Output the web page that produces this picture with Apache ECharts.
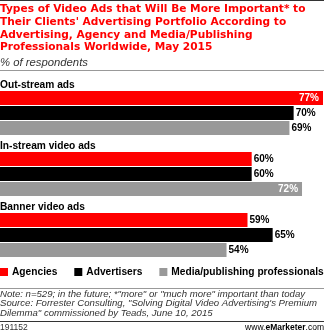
<!DOCTYPE html>
<html><head><meta charset="utf-8">
<script src="https://cdn.jsdelivr.net/npm/echarts@6/dist/echarts.min.js"></script>
<style>html,body{margin:0;padding:0;background:#fff}#c{width:324px;height:332px}</style>
</head><body><div id="c"></div>
<script>
const categories = ['Out-stream ads', 'In-stream video ads', 'Banner video ads'];
const seriesNames = ['Agencies', 'Advertisers', 'Media/publishing professionals'];
const agencies = [77, 60, 59];
const advertisers = [70, 60, 65];
const media = [69, 72, 54];
const insideLabels = { 'Agencies': [true, false, false], 'Advertisers': [false, false, false], 'Media/publishing professionals': [false, true, false] };

const colors = ['#ff0000', '#000000', '#999999'];
const F = 'DejaVu Sans, Verdana, sans-serif';
const A = 'Liberation Sans, Arial, sans-serif';
const chart = echarts.init(document.getElementById('c'), null, { renderer: 'canvas' });

function mk(name, vals, color) {
  return {
    name, type: 'bar', barWidth: 14, barGap: '8%',
    itemStyle: { color },
    data: vals.map((v, i) => {
      const ins = insideLabels[name][i];
      return { value: v, label: { show: true, position: ins ? 'insideRight' : 'right', distance: ins ? 4 : 2, color: ins ? '#fff' : '#000' } };
    }),
    label: { show: true, formatter: '{c}%', fontFamily: A, fontWeight: 'bold', fontSize: 10 },
    animation: false
  };
}

chart.setOption({
  animation: false,
  title: {
    text: 'Types of Video Ads that Will Be More Important* to\nTheir Clients\' Advertising Portfolio According to\nAdvertising, Agency and Media/Publishing\nProfessionals Worldwide, May 2015',
    subtext: '% of respondents',
    left: 0, top: 3, padding: 0, itemGap: 4,
    textStyle: { color: '#ff0000', fontFamily: F, fontWeight: 'bold', fontSize: 10.6, lineHeight: 12.7 },
    subtextStyle: { color: '#333', fontFamily: A, fontStyle: 'italic', fontSize: 11.3 }
  },
  legend: {
    data: seriesNames, left: 0, top: 267, padding: 0, itemGap: 17,
    itemWidth: 8, itemHeight: 8, icon: 'rect',
    textStyle: { fontFamily: A, fontWeight: 'bold', fontSize: 10.2, color: '#000', padding: [0, 0, 0, -1] }
  },
  grid: { left: 0, right: 1, top: 82.5, height: 183, containLabel: false, outerBoundsMode: 'none' },
  xAxis: { type: 'value', min: 0, max: 77, show: false },
  yAxis: {
    type: 'category', data: categories, inverse: true,
    axisLine: { show: false }, axisTick: { show: false },
    axisLabel: { show: true, interval: 0, inside: true, align: 'left', verticalAlign: 'bottom', padding: [0, 0, 23, 0], fontFamily: A, fontWeight: 'bold', fontSize: 10.2, color: '#000', margin: 0 }
  },
  series: [mk(seriesNames[0], agencies, colors[0]), mk(seriesNames[1], advertisers, colors[1]), mk(seriesNames[2], media, colors[2])],
  graphic: [
    { type: 'line', shape: { x1: 0, y1: 0.5, x2: 324, y2: 0.5 }, style: { stroke: '#333', lineWidth: 1 } },
    { type: 'line', shape: { x1: 0, y1: 70.5, x2: 324, y2: 70.5 }, style: { stroke: '#999', lineWidth: 1 } },
    { type: 'line', shape: { x1: 0, y1: 288.5, x2: 324, y2: 288.5 }, style: { stroke: '#999', lineWidth: 1 } },
    { type: 'text', left: 0, top: 289, style: { text: 'Note: n=529; in the future; *"more" or "much more" important than today\nSource: Forrester Consulting, "Solving Digital Video Advertising\'s Premium\nDilemma" commissioned by Teads, June 10, 2015', font: 'italic 9.6px ' + A, fill: '#333', lineHeight: 9.8 } },
    { type: 'line', shape: { x1: 0, y1: 321.5, x2: 324, y2: 321.5 }, style: { stroke: '#333', lineWidth: 1 } },
    { type: 'text', left: 0, top: 323, style: { text: '191152', font: '8.5px ' + A, fill: '#333' } },
    { type: 'text', right: 0, top: 323, style: { rich: { a: { fontFamily: A, fontSize: 8.5, color: '#333' }, b: { fontFamily: A, fontSize: 8.5, fontWeight: 'bold', color: '#ff0000' }, c: { fontFamily: A, fontSize: 8.5, fontWeight: 'bold', color: '#333' } }, text: '{a|www.}{b|e}{c|Marketer}{a|.com}' } }
  ]
});
</script></body></html>
